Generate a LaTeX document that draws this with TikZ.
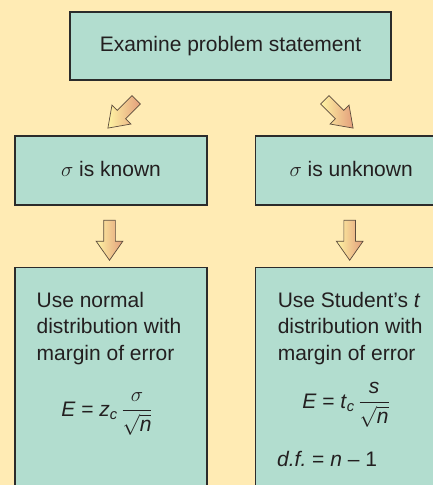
\documentclass[tikz,border=0pt]{standalone}
\usepackage{amsmath}
\usepackage{fontspec}
\setmainfont{Liberation Sans}
\usepackage{xcolor}
\usepackage{tikz}
\usetikzlibrary{shapes.arrows,positioning,calc}
\definecolor{cBack}{HTML}{FFEBB4}
\definecolor{cBox}{HTML}{B2DDCF}
\definecolor{cLine}{HTML}{2B2B2B}
\definecolor{cText}{HTML}{231F20}
\definecolor{cArrTop}{HTML}{FFF4A3}
\definecolor{cArrBot}{HTML}{E39E7C}
\definecolor{cArrLine}{HTML}{5C4B3C}
\tikzset{
  box/.style ={rectangle, draw=cLine, line width=1.2pt, fill=cBox, text=cText,
               font=\fontsize{21}{26.7}\selectfont, inner sep=0pt},
  txt/.style ={align=left, text=cText, font=\fontsize{21}{26.7}\selectfont, inner sep=0pt},
  blk/.style ={single arrow, draw=cArrLine, line width=0.7pt, left color=cArrTop,
               right color=cArrBot, minimum height=40pt, inner sep=5.5pt,
               single arrow head extend=7.5pt, single arrow tip angle=70},
}

\begin{document}
\begin{tikzpicture}[x=1pt,y=1pt]
  \clip (0,0) rectangle (433,-485);
  \fill[cBack] (0,0) rectangle (433,-485);

  \node[box, minimum width=321pt, minimum height=68pt] (exam) at (230.5,-46) {Examine problem statement};
  \node[box, minimum width=192pt, minimum height=69pt, text height=15pt, text depth=4pt]
       (known) at (111,-170.5) {$\sigma$ is known};
  \node[box, minimum width=192pt, minimum height=69pt, text height=15pt, text depth=4pt,
        right=47pt of known] (unknown) {$\sigma$ is unknown};
  \node[box, minimum width=192pt, minimum height=260pt, below=61pt of known] (normbox) {};
  \node[box, minimum width=192pt, minimum height=260pt, right=47pt of normbox] (stubox) {};

  \node[txt, anchor=north west] (normtxt) at ([shift={(22,-25)}]normbox.north west)
       {Use normal\\distribution with\\margin of error};
  \node[txt, anchor=north west] (stutxt) at ([shift={(23,-25)}]stubox.north west)
       {Use Student's \textit{t}\\distribution with\\margin of error};
  \node[txt, anchor=base] (normeq) at (107,-416)
       {\textit{E} = \textit{z}\textsubscript{\textit{c}}\,$\dfrac{\sigma}{\sqrt{\textit{n}}}$};
  \node[txt, anchor=base] (stueq) at (346,-408)
       {\textit{E} = \textit{t}\textsubscript{\textit{c}}\,$\dfrac{\textit{s}}{\sqrt{\textit{n}}}$};
  \node[txt, anchor=base west] (studf) at (277,-466) {\textit{d.f.}\ = \textit{n} – 1};

  % block arrows between the boxes
  \node[blk, rotate=-135] (arrL) at (125,-111) {};
  \node[blk, rotate=-45] (arrR) at (336,-111) {};
  \node[blk, rotate=-90, yshift=-1.5pt] (downL) at ($(known.south)!0.5!(normbox.north)$) {};
  \node[blk, rotate=-90, yshift=-1.5pt] (downR) at ($(unknown.south)!0.5!(stubox.north)$) {};
\end{tikzpicture}
\end{document}
